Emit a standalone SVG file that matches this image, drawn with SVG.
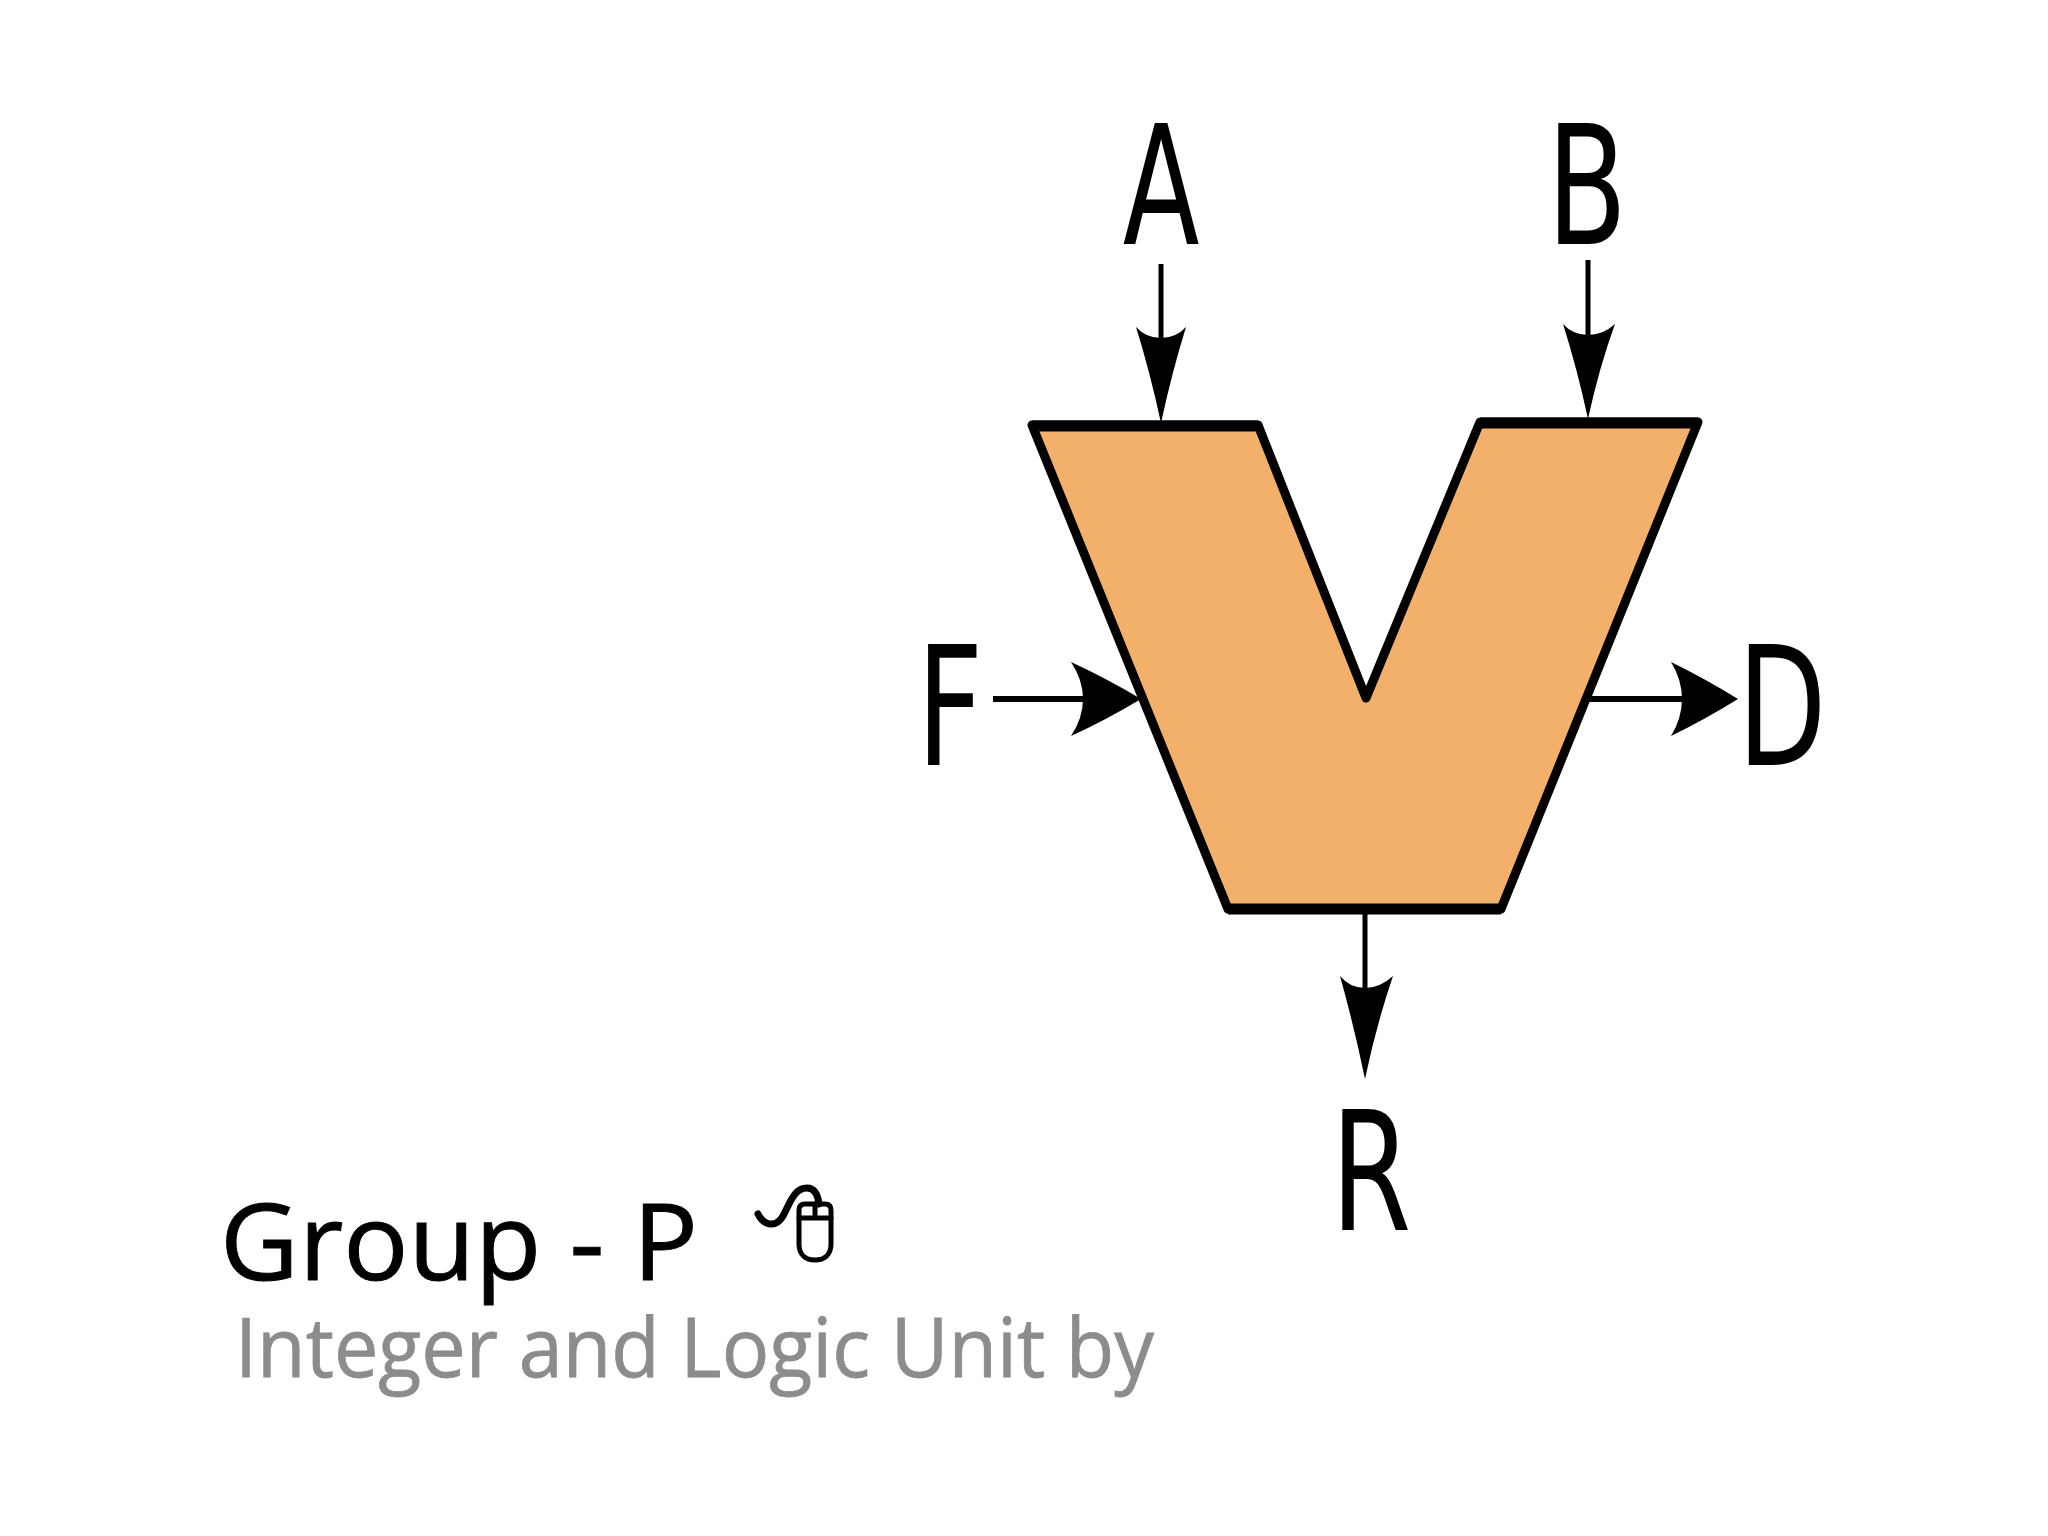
<svg xmlns="http://www.w3.org/2000/svg" width="2048" height="1536" viewBox="0 0 2048 1536">
<style>
.lbl{font-family:"DejaVu Sans",sans-serif;font-size:165px;fill:#000}
.wire{stroke:#000;stroke-width:5;fill:none}
.wide{stroke-width:6}
.head{fill:#000;stroke:none}
.sub{font-family:"Open Sans",sans-serif}
.edge{stroke:#000;fill:none}
</style>
<rect width="2048" height="1536" fill="#fff"/>
<g id="alu">
<path d="M1032 425H1258L1366 698L1480 422H1698L1501 909H1228Z" fill="#f3b06b" stroke="#000" stroke-width="9" stroke-linejoin="round"/>
<path class="edge" stroke-width="11" d="M1032 426H1258M1480 423H1698M1228 909H1501"/>
</g>
<g id="connectors">
<path class="wire" d="M1161 264V345"/>
<path class="head" d="M1161 423Q1150 372 1136 327Q1146 338 1161 338Q1176 338 1186 327Q1172 372 1161 423Z"/>
<path class="wire" d="M1588 260V342"/>
<path class="head" d="M1588 419Q1577 368 1563 324Q1573 335 1588 335Q1603 335 1615 324Q1599 368 1588 419Z"/>
<path class="wire wide" d="M993 699H1088"/>
<path class="head" d="M1141 699Q1106 678 1071 662Q1083 680 1083 699Q1083 718 1071 736Q1106 720 1141 699Z"/>
<path class="wire wide" d="M1587 699H1690"/>
<path class="head" d="M1738 699Q1704 678 1671 662Q1682 680 1682 699Q1682 718 1671 736Q1704 720 1738 699Z"/>
<path class="wire" d="M1365 912V995"/>
<path class="head" d="M1365 1079Q1354 1026 1340 976Q1350 988 1365 988Q1380 988 1393 976Q1376 1026 1365 1079Z"/>
</g>
<g id="label-a"><text class="lbl" transform="translate(1161 244) scale(.68 1)" text-anchor="middle">A</text></g>
<g id="label-b"><text class="lbl" transform="translate(1587 244) scale(.71 1)" text-anchor="middle">B</text></g>
<g id="label-f"><text class="lbl" transform="translate(950 765) scale(.7 1)" text-anchor="middle">F</text></g>
<g id="label-d"><text class="lbl" transform="translate(1782 765) scale(.7 1)" text-anchor="middle">D</text></g>
<g id="label-r"><text class="lbl" transform="translate(1371 1230) scale(.7 1)" text-anchor="middle">R</text></g>
<g id="title"><text class="sub" x="220" y="1280" font-size="107" fill="#000" stroke="#000" stroke-width="1" textLength="478" lengthAdjust="spacingAndGlyphs">Group - P</text>
<text class="sub" x="235" y="1377" font-size="82" fill="#8c8c8c" stroke="#8c8c8c" stroke-width=".8" textLength="919" lengthAdjust="spacingAndGlyphs">Integer and Logic Unit by</text></g>
<g id="mouse" fill="none" stroke="#000" stroke-width="5" stroke-linecap="round" stroke-linejoin="round">
<path d="M799 1210Q799 1204 805 1204H825Q831 1204 831 1210V1244C831 1255 824 1260 815 1260C806 1260 799 1255 799 1244Z"/>
<path d="M799 1218H831M815 1204V1218"/>
<path stroke-width="7" d="M758 1214C764 1226 776 1228 783 1216C790 1203 794 1188 807 1188C815 1188 818 1196 819 1204"/>
</g>
</svg>
